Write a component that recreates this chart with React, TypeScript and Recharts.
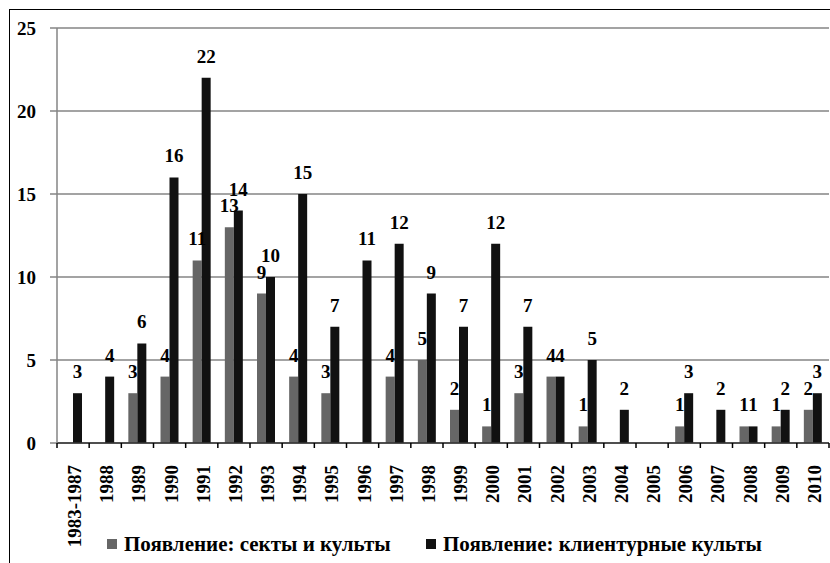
import React from 'react';
import { BarChart, Bar, XAxis, YAxis, CartesianGrid, Legend, LabelList } from 'recharts';

const categories = [
  '1983-1987', '1988', '1989', '1990', '1991', '1992', '1993', '1994', '1995', '1996', '1997', '1998',
  '1999', '2000', '2001', '2002', '2003', '2004', '2005', '2006', '2007', '2008', '2009', '2010',
];
const sects = [0, 0, 3, 4, 11, 13, 9, 4, 3, 0, 4, 5, 2, 1, 3, 4, 1, 0, 0, 1, 0, 1, 1, 2];
const clientCults = [3, 4, 6, 16, 22, 14, 10, 15, 7, 11, 12, 9, 7, 12, 7, 4, 5, 2, 0, 3, 2, 1, 2, 3];
const yTicks = [0, 5, 10, 15, 20, 25];

const SERIES_A = 'Появление: секты и культы';
const SERIES_B = 'Появление: клиентурные культы';

const data = categories.map((year, i) => ({ year, a: sects[i], b: clientCults[i] }));

const FONT = "'Liberation Serif', 'Times New Roman', 'DejaVu Serif', serif";
const W = 822;
const H = 560;
const MARGIN = { top: 18, right: 3, left: 0, bottom: 14 };
const Y_W = 47;
const BAND = (W - MARGIN.left - MARGIN.right - Y_W) / categories.length;

const XTick = (props: any) => {
  const { x, y, payload, index } = props;
  return (
    <g>
      <line x1={x - BAND / 2} x2={x - BAND / 2} y1={y} y2={y + 5} stroke="#000" strokeWidth={1.5} />
      {index === categories.length - 1 && (
        <line x1={x + BAND / 2} x2={x + BAND / 2} y1={y} y2={y + 5} stroke="#000" strokeWidth={1.5} />
      )}
      <text
        x={x + 8}
        y={y + 22}
        transform={`rotate(-90, ${x + 8}, ${y + 22})`}
        textAnchor="end"
        style={{ fontFamily: FONT, fontWeight: 'bold', fontSize: 19 }}
        fill="#000"
      >
        {payload.value}
      </text>
    </g>
  );
};

const renderLegend = (props: any) => {
  const items = [...(props.payload || [])].sort((p: any, q: any) =>
    String(p.dataKey).localeCompare(String(q.dataKey)),
  );
  return (
    <div
      style={{
        display: 'flex',
        paddingLeft: 97,
        height: 24,
        alignItems: 'center',
        fontFamily: FONT,
        fontWeight: 'bold',
        fontSize: 21,
        color: '#000',
        whiteSpace: 'nowrap',
      }}
    >
      {items.map((e: any, i: number) => (
        <div key={i} style={{ display: 'flex', alignItems: 'center', flex: 'none', width: i === 0 ? 319 : undefined }}>
          <span style={{ display: 'inline-block', width: 10, height: 10, background: e.color, marginRight: 7 }} />
          <span>{e.value}</span>
        </div>
      ))}
    </div>
  );
};

const hideZero = (v: any) => (v === 0 ? '' : v);
const labelStyle = { fontFamily: FONT, fontWeight: 'bold', fontSize: 19, fill: '#000' };

export default function App() {
  return (
    <div style={{ position: 'fixed', left: 0, top: 0, width: 830, height: 563, overflow: 'hidden', background: '#fff' }}>
      <div
        style={{
          position: 'absolute',
          left: 9,
          top: 9,
          width: 840,
          height: 600,
          border: '1px solid #000',
          boxSizing: 'border-box',
        }}
      >
        <BarChart width={W} height={H} data={data} margin={MARGIN} barGap={0} barSize={9}>
          <CartesianGrid vertical={false} stroke="#858585" strokeWidth={1.5} />
          <XAxis
            dataKey="year"
            interval={0}
            height={H - MARGIN.top - MARGIN.bottom - 24 - 415}
            axisLine={{ stroke: '#333', strokeWidth: 1.5 }}
            tickLine={false}
            tickSize={0}
            tickMargin={0}
            tick={<XTick />}
          />
          <YAxis
            width={Y_W}
            domain={[0, 25]}
            ticks={yTicks}
            interval={0}
            axisLine={{ stroke: '#858585', strokeWidth: 1.5 }}
            tickLine={{ stroke: '#858585', strokeWidth: 1.5 }}
            tickSize={7}
            tickMargin={14}
            tick={labelStyle}
          />
          <Legend verticalAlign="bottom" align="left" height={24} content={renderLegend} />
          <Bar dataKey="a" name={SERIES_A} fill="#666666" isAnimationActive={false}>
            <LabelList dataKey="a" position="top" offset={15} formatter={hideZero} style={labelStyle} />
          </Bar>
          <Bar dataKey="b" name={SERIES_B} fill="#111111" isAnimationActive={false}>
            <LabelList dataKey="b" position="top" offset={15} formatter={hideZero} style={labelStyle} />
          </Bar>
        </BarChart>
      </div>
    </div>
  );
}
